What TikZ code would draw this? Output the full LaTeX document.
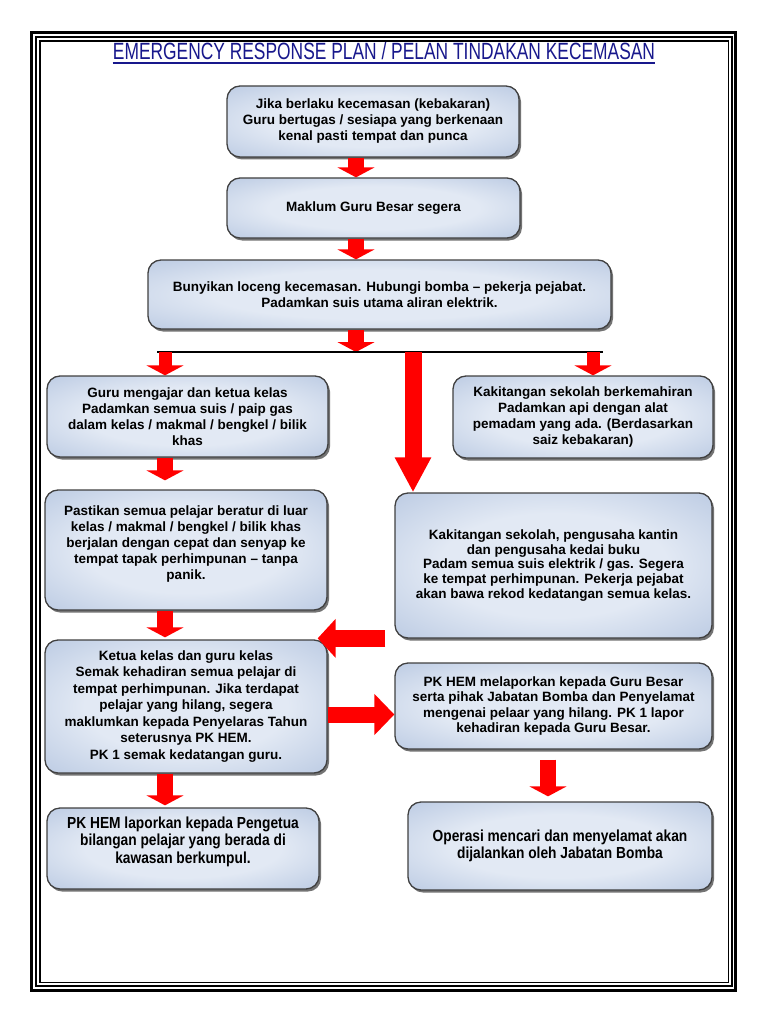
\documentclass[tikz,border=0pt]{standalone}
\usepackage{fontspec}
\setmainfont{Liberation Sans}
\newfontfamily\narrowfont{Liberation Sans}[FakeStretch=0.86]
\newfontfamily\titlefont{Liberation Sans}[FakeStretch=0.74]
\usetikzlibrary{arrows.meta,shadows}
\definecolor{boxedge}{RGB}{112,143,193}
\definecolor{boxmid}{RGB}{226,233,244}
\definecolor{fire}{RGB}{255,0,0}
\definecolor{titleblue}{RGB}{24,24,140}
\pgfdeclareradialshading{boxglow}{\pgfpoint{0bp}{0bp}}{color(0bp)=(boxmid); color(18bp)=(boxmid); color(72bp)=(boxedge)}

\begin{document}
\begin{tikzpicture}[x=1pt,y=-1pt,
    planbox/.style={draw=black!75, line width=1.3pt, rounded corners=13pt, shading=boxglow,
        align=center, inner sep=4pt, font=\fontsize{13.5}{16}\selectfont\bfseries,
        drop shadow={shadow xshift=2pt, shadow yshift=-2.5pt, fill=black, opacity=0.55}},
    narrowbox/.style={planbox, font=\narrowfont\fontsize{16}{17.5}\selectfont\bfseries},
    flowarrow/.style={draw=fire, line width=16pt, -{Triangle[width=37pt,length=10pt]}},
    longarrow/.style={draw=fire, line width=17pt, -{Triangle[width=34pt,length=35pt]}},
    sidearrow/.style={draw=fire, line width=17pt, -{Triangle[width=38pt,length=18pt]}}]
    \useasboundingbox (0,0) rectangle (768,1024);
    \draw[line width=3pt] (31.5,32.5) rectangle (735.5,990.5);
    \draw[line width=2pt] (36,37) rectangle (732,986);
    \draw[line width=1.2pt] (40,41) rectangle (728.5,982.5);
    \node[font=\titlefont\fontsize{23.5}{26}\selectfont, text=titleblue, inner sep=0pt, anchor=base] (title) at (384,60) {EMERGENCY RESPONSE PLAN / PELAN TINDAKAN KECEMASAN};
    \draw[titleblue, line width=2pt] ([yshift=-3pt]title.base west) -- ([yshift=-3pt]title.base east);

    \node[planbox, minimum width=292pt, minimum height=71pt] (alarm) at (373,121.5) {Jika berlaku kecemasan (kebakaran)\\Guru bertugas / sesiapa yang berkenaan\\kenal pasti tempat dan punca};
    \node[planbox, minimum width=293pt, minimum height=60pt] (head) at (373.5,208) {Maklum Guru Besar segera};
    \node[planbox, minimum width=463pt, minimum height=69pt] (bell) at (379.5,294.5) {Bunyikan loceng kecemasan. Hubungi bomba – pekerja pejabat.\\Padamkan suis utama aliran elektrik.};
    \node[planbox, minimum width=281pt, minimum height=81pt] (teacher) at (187.5,416.5) {Guru mengajar dan ketua kelas\\Padamkan semua suis / paip gas\\dalam kelas / makmal / bengkel / bilik\\khas};
    \node[planbox, minimum width=260pt, minimum height=82pt] (skilled) at (583,417) {Kakitangan sekolah berkemahiran\\Padamkan api dengan alat\\pemadam yang ada. (Berdasarkan\\saiz kebakaran)};
    \node[planbox, minimum width=282pt, minimum height=120pt, text depth=15pt] (walk) at (186,550) {Pastikan semua pelajar beratur di luar\\kelas / makmal / bengkel / bilik khas\\berjalan dengan cepat dan senyap ke\\tempat tapak perhimpunan – tanpa\\panik.};
    \node[planbox, minimum width=317pt, minimum height=145pt, font=\fontsize{13.5}{14.8}\selectfont\bfseries] (staff) at (553.5,565.5) {Kakitangan sekolah, pengusaha kantin\\dan pengusaha kedai buku\\Padam semua suis elektrik / gas. Segera\\ke tempat perhimpunan. Pekerja pejabat\\akan bawa rekod kedatangan semua kelas.};
    \node[planbox, minimum width=282pt, minimum height=133pt, font=\fontsize{13.5}{16.5}\selectfont\bfseries] (roll) at (186,706.5) {Ketua kelas dan guru kelas\\Semak kehadiran semua pelajar di\\tempat perhimpunan. Jika terdapat\\pelajar yang hilang, segera\\maklumkan kepada Penyelaras Tahun\\seterusnya PK HEM.\\PK 1 semak kedatangan guru.};
    \node[planbox, minimum width=317pt, minimum height=86pt, font=\fontsize{13.5}{15.3}\selectfont\bfseries] (report) at (553.5,706) {PK HEM melaporkan kepada Guru Besar\\serta pihak Jabatan Bomba dan Penyelamat\\mengenai pelaar yang hilang. PK 1 lapor\\kehadiran kepada Guru Besar.};
    \node[narrowbox, minimum width=272pt, minimum height=81pt, text depth=17pt] (count) at (183,848.5) {PK HEM laporkan kepada Pengetua\\bilangan pelajar yang berada di\\kawasan berkumpul.};
    \node[narrowbox, minimum width=304pt, minimum height=88pt] (rescue) at (560,846) {Operasi mencari dan menyelamat akan\\dijalankan oleh Jabatan Bomba};

    \coordinate (spine) at (356,0);
    \coordinate (leftcol) at (165,0);
    \coordinate (midcol) at (413,0);
    \coordinate (rightcol) at (593,0);
    \coordinate (rescuecol) at (548,0);
    \coordinate (barleft) at (157,352);
    \coordinate (barright) at (603,352);

    \draw[flowarrow] (spine |- alarm.south) -- (spine |- head.north);
    \draw[flowarrow] (spine |- head.south) -- (spine |- bell.north);
    \draw[flowarrow] (spine |- bell.south) -- (spine |- barleft);
    \draw[line width=1.8pt] (barleft) -- (barright);
    \draw[flowarrow, line width=13pt] (leftcol |- barleft) -- (leftcol |- teacher.north);
    \draw[flowarrow, line width=13pt] (rightcol |- barleft) -- (rightcol |- skilled.north);
    \draw[longarrow] (midcol |- barleft) -- (midcol |- staff.north);
    \draw[flowarrow] (leftcol |- teacher.south) -- ([yshift=9pt]walk.north -| leftcol);
    \draw[flowarrow] (leftcol |- walk.south) -- ([yshift=2pt]roll.north -| leftcol);
    \draw[flowarrow] (leftcol |- roll.south) -- ([yshift=2pt]count.north -| leftcol);
    \draw[flowarrow] ([yshift=-10pt]report.south -| rescuecol) -- ([yshift=5pt]rescue.north -| rescuecol);
    \draw[sidearrow] ([xshift=-9pt,yshift=1pt]staff.west |- roll.north) -- ([xshift=-10pt,yshift=1pt]roll.north east);
    \draw[sidearrow, -{Triangle[width=40pt,length=20pt]}, line width=16pt] ([yshift=-8pt]roll.east) -- ([yshift=-8pt]roll.east -| report.west);
\end{tikzpicture}
\end{document}
